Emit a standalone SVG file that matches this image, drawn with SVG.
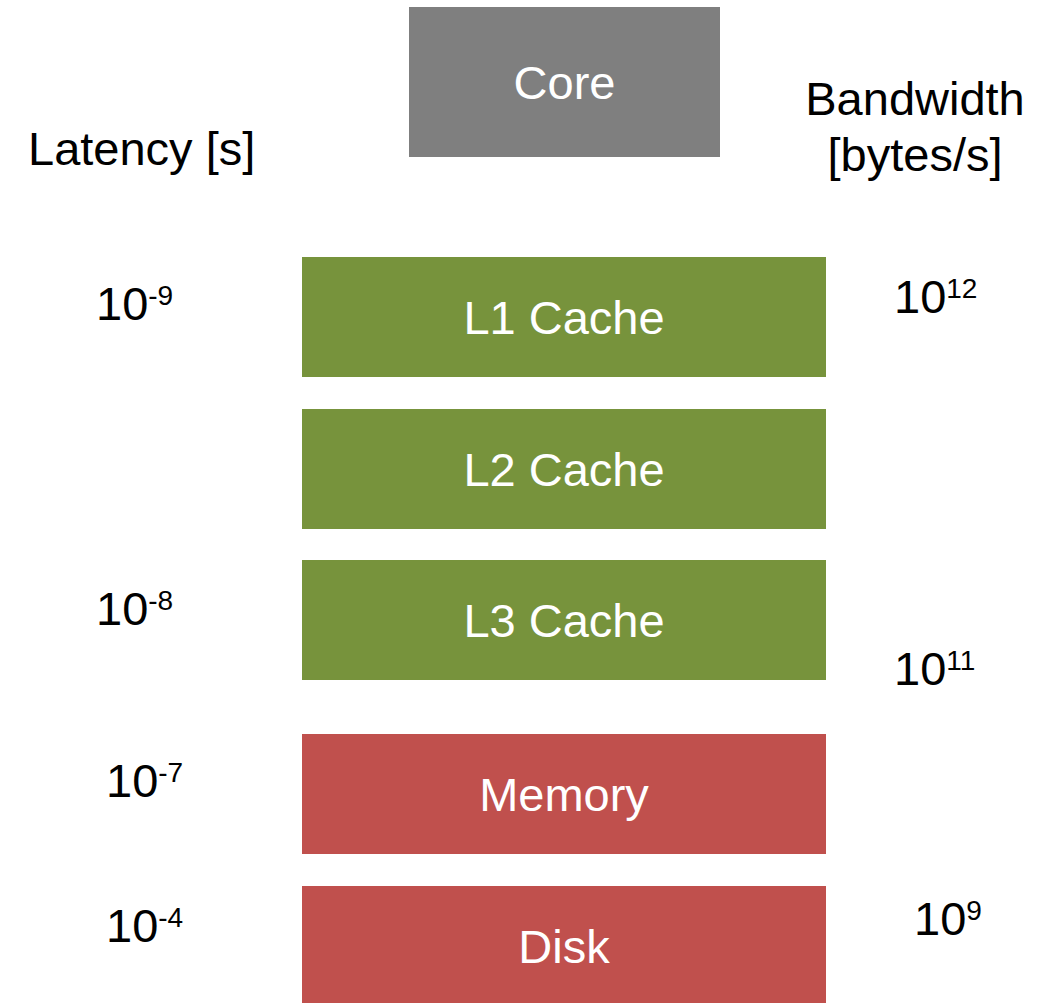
<svg xmlns="http://www.w3.org/2000/svg" width="1051" height="1003" viewBox="0 0 1051 1003">
<style>
text{font-family:"Liberation Sans",Arial,sans-serif;font-size:47px}
.lbl{fill:#fff;text-anchor:middle}
.ax{fill:#000}
.sup{font-size:28px}
.core{fill:#7f7f7f}
.cache{fill:#77933c}
.mem{fill:#c0504d}
</style>
<rect width="1051" height="1003" fill="#fff"/>
<g id="core"><rect class="core" x="409" y="7" width="311" height="150"/><text class="lbl" x="564.5" y="99">Core</text></g>
<g id="l1"><rect class="cache" x="302" y="257" width="524" height="120"/><text class="lbl" x="564" y="334">L1 Cache</text></g>
<g id="l2"><rect class="cache" x="302" y="409" width="524" height="120"/><text class="lbl" x="564" y="486">L2 Cache</text></g>
<g id="l3"><rect class="cache" x="302" y="560" width="524" height="120"/><text class="lbl" x="564" y="637">L3 Cache</text></g>
<g id="memory"><rect class="mem" x="302" y="734" width="524" height="120"/><text class="lbl" x="564" y="811">Memory</text></g>
<g id="disk"><rect class="mem" x="302" y="886" width="524" height="120"/><text class="lbl" x="564" y="963">Disk</text></g>
<g id="connectors"></g>
<g id="labels">
<text class="ax" x="28" y="165">Latency [s]</text>
<text class="ax" x="915" y="115" text-anchor="middle">Bandwidth</text>
<text class="ax" x="915" y="171" text-anchor="middle">[bytes/s]</text>
<text class="ax" x="96" y="320">10<tspan class="sup" dy="-15">-9</tspan></text>
<text class="ax" x="96" y="625">10<tspan class="sup" dy="-15">-8</tspan></text>
<text class="ax" x="106" y="797">10<tspan class="sup" dy="-15">-7</tspan></text>
<text class="ax" x="106" y="942">10<tspan class="sup" dy="-15">-4</tspan></text>
<text class="ax" x="894" y="313">10<tspan class="sup" dy="-15">12</tspan></text>
<text class="ax" x="894" y="685">10<tspan class="sup" dy="-15">11</tspan></text>
<text class="ax" x="914" y="935">10<tspan class="sup" dy="-15">9</tspan></text>
</g>
</svg>
